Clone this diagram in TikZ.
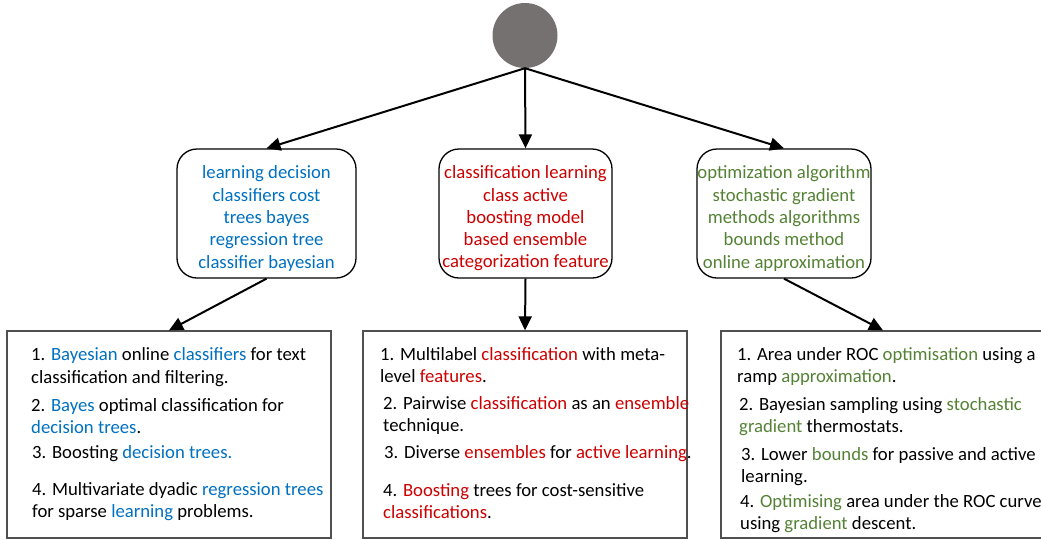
\documentclass[tikz,border=0pt]{standalone}
\usepackage{fontspec}
\setmainfont{Carlito}
\usetikzlibrary{arrows.meta}
\definecolor{cblue}{RGB}{0,112,192}
\definecolor{cred}{RGB}{204,0,0}
\definecolor{cgreen}{RGB}{84,130,53}
\definecolor{cgray}{RGB}{118,113,113}
\definecolor{boxgray}{RGB}{80,80,80}
\newcommand{\bl}[1]{\textcolor{cblue}{#1}}
\newcommand{\rd}[1]{\textcolor{cred}{#1}}
\newcommand{\gn}[1]{\textcolor{cgreen}{#1}}
\begin{document}
\begin{tikzpicture}[x=1pt,y=-1pt,
  conn/.style={line width=2pt,-{Triangle[length=14pt,width=13pt]}},
  rbox/.style={draw,line width=1.3pt,rounded corners=20pt,minimum height=129pt,inner sep=0pt},
  bbox/.style={draw=boxgray,line width=1.3pt,minimum height=207pt,minimum width=324pt,inner sep=0pt},
  txt/.style={font=\fontsize{18.7}{22.3}\selectfont,inner sep=0pt},
  item/.style={txt,align=left,anchor=west},
  ctr/.style={txt,align=center}]
\useasboundingbox (0,0) rectangle (1041,539);

\node[circle,fill=cgray,minimum size=65pt,inner sep=0pt] (root) at (525,35.5) {};

\node[rbox,minimum width=179pt] (r1) at (266.5,213.5) {};
\node[rbox,minimum width=173pt] (r2) at (525.5,213.5) {};
\node[rbox,minimum width=174pt] (r3) at (784,213.5) {};

\node[ctr,text=cblue] (t1) at (266.5,218.5) {learning decision\\classifiers cost\\trees bayes\\regression tree\\classifier bayesian};
\node[ctr,text=cred] (t2) at (525.5,218.5) {classification learning\\class active\\boosting model\\based ensemble\\categorization feature};
\node[ctr,text=cgreen] (t3) at (784,218.5) {optimization algorithm\\stochastic gradient\\methods algorithms\\bounds method\\online approximation};

\node[bbox] (b1) at (169,434.5) {};
\node[bbox] (b2) at (525,434.5) {};
\node[bbox] (b3) at (883,434.5) {};

\draw[conn] (root.south) -- (r1.north);
\draw[conn] (root.south) -- (r2.north);
\draw[conn] (root.south) -- (r3.north);
\draw[conn] (r1.south) -- (b1.north);
\draw[conn] (r2.south) -- (b2.north);
\draw[conn] (r3.south) -- (b3.north);

% left items
\node[item] (l1) at (31,367) {1. \bl{Bayesian} online \bl{classifiers} for text\\classification and filtering.};
\node[item] (l2) at (31,416) {2. \bl{Bayes} optimal classification for\\\bl{decision trees}.};
\node[item] (l3) at (32,454) {3. Boosting \bl{decision trees.}};
\node[item] (l4) at (32,501.5) {4. Multivariate dyadic \bl{regression trees}\\for sparse \bl{learning} problems.};

% middle items
\node[item] (m1) at (380,365) {1. Multilabel \rd{classification} with meta-\\level \rd{features}.};
\node[item] (m2) at (383,415.5) {2. Pairwise \rd{classification} as an \rd{ensemble}\\technique.};
\node[item] (m3) at (384,454) {3. Diverse \rd{ensembles} for \rd{active learning}.};
\node[item] (m4) at (383,501) {4. \rd{Boosting} trees for cost-sensitive\\\rd{classifications}.};

% right items
\node[item] (n1) at (737,366.5) {1. Area under ROC \gn{optimisation} using a\\ramp \gn{approximation}.};
\node[item] (n2) at (739,416.5) {2. Bayesian sampling using \gn{stochastic}\\\gn{gradient} thermostats.};
\node[item] (n3) at (741,466.5) {3. Lower \gn{bounds} for passive and active\\learning.};
\node[item] (n4) at (740,513.5) {4. \gn{Optimising} area under the ROC curve\\using \gn{gradient} descent.};
\end{tikzpicture}
\end{document}
